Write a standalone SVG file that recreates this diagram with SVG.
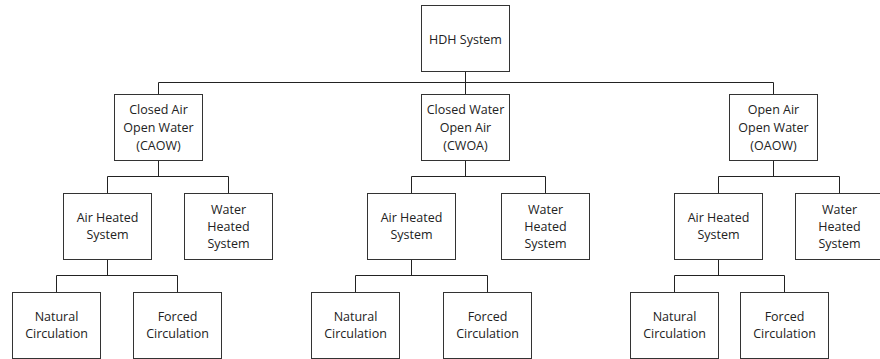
<svg xmlns="http://www.w3.org/2000/svg" width="880" height="359" viewBox="0 0 880 359">
<style>
.box{fill:#fff;stroke:#333;stroke-width:1}
.t{font-family:"Open Sans","Liberation Sans",Arial,sans-serif;font-size:12.5px;fill:#222;text-anchor:middle}
.c{fill:none;stroke:#222;stroke-width:1}
</style>
<rect width="880" height="359" fill="#fff"/>
<g id="connectors" class="c">
<path d="M465.5 71.5V82.5M158.5 94.5V82.5H773.5V94.5M465.5 82.5V94.5"/>
<path d="M158.5 160.5V176.5M107.5 193.5V176.5H228.5V193.5"/>
<path d="M465.5 160.5V176.5M411.5 193.5V176.5H545.5V193.5"/>
<path d="M773.5 160.5V176.5M718.5 193.5V176.5H839.5V193.5"/>
<path d="M107.5 259.5V275.5M56.5 292.5V275.5H177.5V292.5"/>
<path d="M411.5 259.5V275.5M355.5 292.5V275.5H487.5V292.5"/>
<path d="M718.5 259.5V275.5M674.5 292.5V275.5H784.5V292.5"/>
</g>
<g id="hdh"><rect class="box" x="421.5" y="5.5" width="88" height="66"/><text class="t" x="465.5" y="44">HDH System</text></g>
<g id="caow"><rect class="box" x="114.5" y="94.5" width="88" height="66"/><text class="t" x="158.5" y="114">Closed Air</text><text class="t" x="158.5" y="132">Open Water</text><text class="t" x="158.5" y="150">(CAOW)</text></g>
<g id="cwoa"><rect class="box" x="421.5" y="94.5" width="88" height="66"/><text class="t" x="465.5" y="114">Closed Water</text><text class="t" x="465.5" y="132">Open Air</text><text class="t" x="465.5" y="150">(CWOA)</text></g>
<g id="oaow"><rect class="box" x="729.5" y="94.5" width="88" height="66"/><text class="t" x="773.5" y="114">Open Air</text><text class="t" x="773.5" y="132">Open Water</text><text class="t" x="773.5" y="150">(OAOW)</text></g>
<g id="air1"><rect class="box" x="63.5" y="193.5" width="88" height="66"/><text class="t" x="107.5" y="222">Air Heated</text><text class="t" x="107.5" y="239">System</text></g>
<g id="water1"><rect class="box" x="184.5" y="193.5" width="88" height="66"/><text class="t" x="228.5" y="213.5">Water</text><text class="t" x="228.5" y="231">Heated</text><text class="t" x="228.5" y="248">System</text></g>
<g id="air2"><rect class="box" x="367.5" y="193.5" width="88" height="66"/><text class="t" x="411.5" y="222">Air Heated</text><text class="t" x="411.5" y="239">System</text></g>
<g id="water2"><rect class="box" x="501.5" y="193.5" width="88" height="66"/><text class="t" x="545.5" y="213.5">Water</text><text class="t" x="545.5" y="231">Heated</text><text class="t" x="545.5" y="248">System</text></g>
<g id="air3"><rect class="box" x="674.5" y="193.5" width="88" height="66"/><text class="t" x="718.5" y="222">Air Heated</text><text class="t" x="718.5" y="239">System</text></g>
<g id="water3"><rect class="box" x="795.5" y="193.5" width="88" height="66"/><text class="t" x="839.5" y="213.5">Water</text><text class="t" x="839.5" y="231">Heated</text><text class="t" x="839.5" y="248">System</text></g>
<g id="nat1"><rect class="box" x="12.5" y="292.5" width="88" height="66"/><text class="t" x="56.5" y="321">Natural</text><text class="t" x="56.5" y="338">Circulation</text></g>
<g id="forced1"><rect class="box" x="133.5" y="292.5" width="88" height="66"/><text class="t" x="177.5" y="321">Forced</text><text class="t" x="177.5" y="338">Circulation</text></g>
<g id="nat2"><rect class="box" x="311.5" y="292.5" width="88" height="66"/><text class="t" x="355.5" y="321">Natural</text><text class="t" x="355.5" y="338">Circulation</text></g>
<g id="forced2"><rect class="box" x="443.5" y="292.5" width="88" height="66"/><text class="t" x="487.5" y="321">Forced</text><text class="t" x="487.5" y="338">Circulation</text></g>
<g id="nat3"><rect class="box" x="630.5" y="292.5" width="88" height="66"/><text class="t" x="674.5" y="321">Natural</text><text class="t" x="674.5" y="338">Circulation</text></g>
<g id="forced3"><rect class="box" x="740.5" y="292.5" width="88" height="66"/><text class="t" x="784.5" y="321">Forced</text><text class="t" x="784.5" y="338">Circulation</text></g>
</svg>
